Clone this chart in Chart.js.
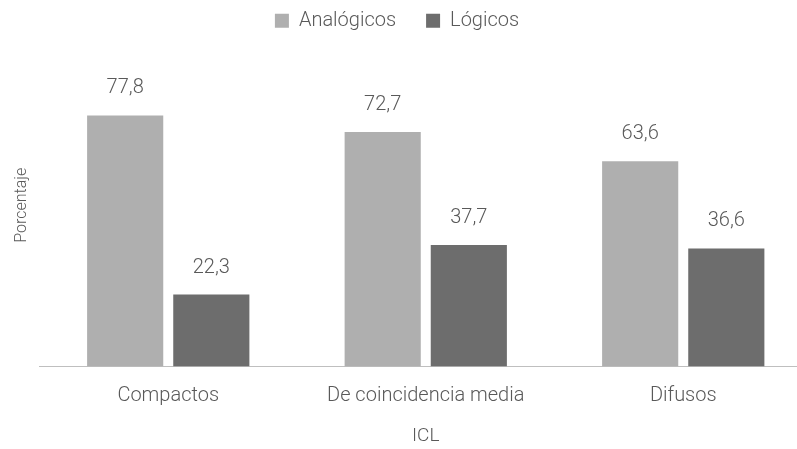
<!DOCTYPE html>
<html lang="es">
<head>
    <meta charset="UTF-8">
    <title>ICL</title>
    <script src="https://cdn.jsdelivr.net/npm/chart.js"></script>
    <style>
        body { margin: 0; overflow: hidden; background: #fff; }
        .chart-container { width: 812px; height: 449px; }
    </style>
</head>
<body>
    <div class="chart-container">
        <canvas id="iclChart" width="812" height="449"></canvas>
    </div>

    <script>
        // Data
        const categories = ['Compactos', 'De coincidencia media', 'Difusos'];
        const analogicos = [77.8, 72.7, 63.6];
        const logicos = [22.3, 37.7, 36.6];
        const seriesNames = ['Analógicos', 'Lógicos'];

        const textColor = '#595959';
        const fontFamily = 'Roboto, "Liberation Sans", sans-serif';

        // Values above the bars, with decimal comma
        const valueLabels = {
            id: 'valueLabels',
            afterDatasetsDraw(chart) {
                const ctx = chart.ctx;
                ctx.save();
                ctx.font = '300 20px ' + fontFamily;
                ctx.fillStyle = textColor;
                ctx.textAlign = 'center';
                ctx.textBaseline = 'alphabetic';
                chart.data.datasets.forEach((ds, i) => {
                    chart.getDatasetMeta(i).data.forEach((bar, j) => {
                        const txt = ds.data[j].toFixed(1).replace('.', ',');
                        ctx.fillText(txt, bar.x, bar.y - 22);
                    });
                });
                ctx.restore();
            }
        };

        // Move the legend into place (canvas is wider than the window)
        const legendNudge = {
            id: 'legendNudge',
            afterLayout(chart) {
                const lg = chart.legend;
                lg.left -= 9;
                lg.right -= 9;
                lg.top -= 3;
                lg.bottom -= 3;
            }
        };

        const ctx = document.getElementById('iclChart').getContext('2d');
        new Chart(ctx, {
            type: 'bar',
            data: {
                labels: categories,
                datasets: [
                    {
                        label: seriesNames[0],
                        data: analogicos,
                        backgroundColor: '#AFAFAF'
                    },
                    {
                        label: seriesNames[1],
                        data: logicos,
                        backgroundColor: '#6D6D6D'
                    }
                ]
            },
            options: {
                responsive: false,
                animation: false,
                devicePixelRatio: 1,
                categoryPercentage: 0.669,
                barPercentage: 0.884,
                layout: { padding: { top: -16.2, left: 0, right: 0, bottom: 0 } },
                plugins: {
                    legend: {
                        position: 'top',
                        labels: {
                            boxWidth: 14,
                            boxHeight: 14,
                            padding: 30,
                            color: textColor,
                            font: { family: fontFamily, size: 20, weight: '300' }
                        }
                    },
                    tooltip: { enabled: false }
                },
                scales: {
                    x: {
                        grid: { display: false, drawTicks: false },
                        border: { display: true, color: '#BFBFBF', width: 1 },
                        ticks: {
                            color: textColor,
                            padding: 17,
                            maxRotation: 0,
                            font: { family: fontFamily, size: 20, weight: '300' }
                        },
                        title: {
                            display: true,
                            text: 'ICL',
                            color: textColor,
                            padding: { top: 0, bottom: 1.6 },
                            font: { family: fontFamily, size: 19, weight: '300' }
                        }
                    },
                    y: {
                        min: 0,
                        max: 100,
                        grid: { display: false, drawTicks: false },
                        border: { display: false },
                        ticks: { display: false },
                        title: {
                            display: true,
                            text: 'Porcentaje',
                            color: textColor,
                            padding: { top: 12.4, bottom: 0 },
                            font: { family: fontFamily, size: 16, weight: '300' }
                        },
                        afterFit(scale) {
                            scale.width = 39.5;
                        }
                    }
                }
            },
            plugins: [valueLabels, legendNudge]
        });
    </script>
</body>
</html>
